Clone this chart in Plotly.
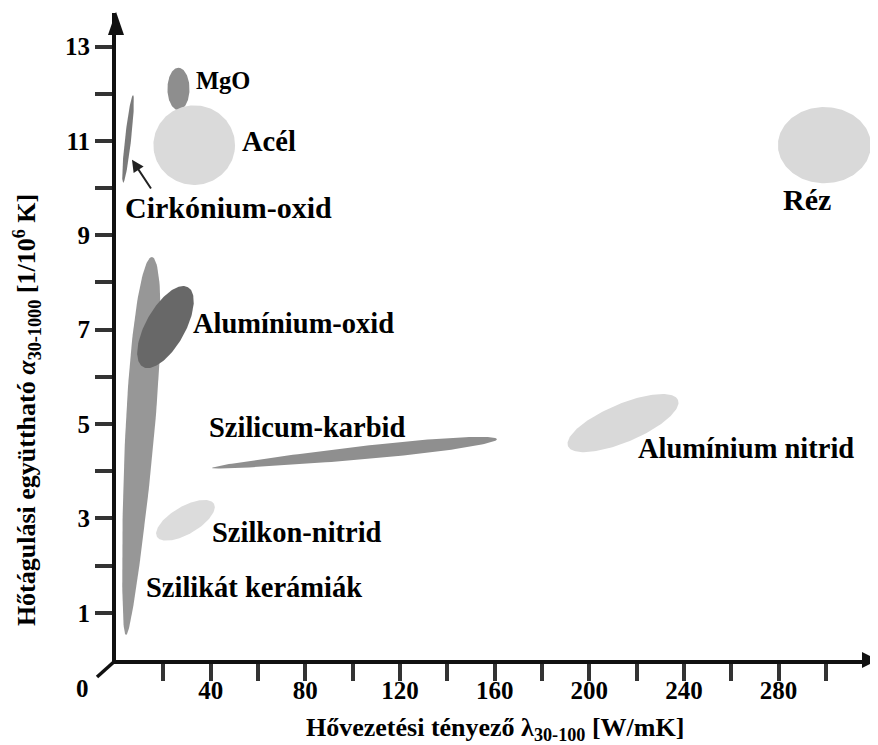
import numpy as np
import plotly.graph_objects as go

# material regions: thermal conductivity (W/mK) vs expansion coefficient (1/10^6 K)
# each region is given by the two ends of its long axis
materials = ["Szilikát kerámiák", "Alumínium-oxid", "MgO", "Acél", "Cirkónium-oxid",
             "Réz", "Alumínium nitrid", "Szilicum-karbid", "Szilkon-nitrid"]
lam_lo = [4.2, 11.4, 26.4, 15.8, 3.0, 279.7, 191.0, 40.6, 17.3]
alpha_lo = [0.53, 6.21, 11.65, 10.91, 10.11, 10.91, 4.53, 4.07, 2.61]
lam_hi = [15.2, 30.4, 26.4, 50.3, 7.2, 319.0, 237.5, 161.0, 41.4]
alpha_hi = [8.54, 7.90, 12.55, 10.91, 11.97, 10.91, 5.51, 4.68, 3.31]

x_tickvals = list(range(20, 320, 20))
x_ticktext = [str(v) if v % 40 == 0 and v < 300 else "" for v in x_tickvals]
y_tickvals = list(range(1, 14))
y_ticktext = [str(v) if v % 2 else "" for v in y_tickvals]

# styling
STYLE = {
    "Szilikát kerámiák": dict(ratio=0.075, egg=0.35, color="#979797"),
    "Alumínium-oxid": dict(ratio=0.43, egg=0.0, color="#686868"),
    "MgO": dict(ratio=0.52, egg=0.0, color="#8e8e8e"),
    "Acél": dict(ratio=0.975, egg=0.0, color="#dadada"),
    "Cirkónium-oxid": dict(ratio=0.07, egg=0.0, color="#7a7a7a"),
    "Réz": dict(ratio=0.82, egg=0.0, color="#d9d9d9"),
    "Alumínium nitrid": dict(ratio=0.32, egg=0.0, color="#d9d9d9"),
    "Szilicum-karbid": dict(ratio=0.045, egg=0.35, color="#8f8f8f"),
    "Szilkon-nitrid": dict(ratio=0.42, egg=0.0, color="#dcdcdc"),
}
LABEL_POS = {
    "Szilikát kerámiák": (58.3, 1.53, 28.5),
    "Alumínium-oxid": (75.2, 7.14, 28.5),
    "MgO": (45.4, 12.29, 24.5),
    "Acél": (64.7, 10.98, 28.5),
    "Cirkónium-oxid": (47.5, 9.58, 30),
    "Réz": (291.8, 9.75, 30),
    "Alumínium nitrid": (266.4, 4.49, 28.5),
    "Szilicum-karbid": (81.1, 4.92, 28.5),
    "Szilkon-nitrid": (76.5, 2.71, 28.5),
}

# the page body adds an 8px offset, so the figure is 8px smaller than the window
W, H = 870, 737
M = dict(l=108, r=0, t=5, b=85)
X_RANGE = [0, 322]
Y_RANGE = [0, 13.71]
KX = (W - M["l"] - M["r"]) / X_RANGE[1]
KY = (H - M["t"] - M["b"]) / Y_RANGE[1]
FONT = "Liberation Serif, Times New Roman, serif"


def ellipse(x0, y0, x1, y1, ratio, egg=0.0, n=160):
    # built in screen pixels so the unequal axis scales don't skew it
    X0, Y0, X1, Y1 = x0 * KX, y0 * KY, x1 * KX, y1 * KY
    cx, cy = (X0 + X1) / 2, (Y0 + Y1) / 2
    a = np.hypot(X1 - X0, Y1 - Y0) / 2
    b = a * ratio
    ang = np.arctan2(Y1 - Y0, X1 - X0)
    t = np.linspace(0, 2 * np.pi, n)
    u = a * np.cos(t)
    v = b * np.sin(t) * (1 + egg * np.cos(t))
    X = cx + u * np.cos(ang) - v * np.sin(ang)
    Y = cy + u * np.sin(ang) + v * np.cos(ang)
    return X / KX, Y / KY


fig = go.Figure()
for i, name in enumerate(materials):
    st = STYLE[name]
    ex, ey = ellipse(lam_lo[i], alpha_lo[i], lam_hi[i], alpha_hi[i], st["ratio"], st["egg"])
    fig.add_trace(
        go.Scatter(
            x=ex, y=ey, mode="lines", fill="toself",
            fillcolor=st["color"], line=dict(width=0, color=st["color"]),
            hoverinfo="skip", showlegend=False,
        )
    )
    lx, ly, fs = LABEL_POS[name]
    fig.add_annotation(
        x=lx, y=ly, text=name, showarrow=False, xanchor="center", yanchor="middle",
        font=dict(family=FONT, size=fs, color="black", weight="bold"),
    )

# pointer for the thin zirconia region
fig.add_annotation(
    x=6.76, y=10.60, ax=15.2, ay=9.96, axref="x", ayref="y", text="",
    showarrow=True, arrowhead=2, arrowsize=1.2, arrowwidth=2, arrowcolor="#222",
)

fig.add_annotation(
    x=-0.0446, y=-0.0433, xref="paper", yref="paper", text="0", showarrow=False,
    xanchor="center", yanchor="middle",
    font=dict(family=FONT, size=25, color="black", weight="bold"),
)
fig.add_annotation(
    x=0.497, y=-0.1065, xref="paper", yref="paper", showarrow=False,
    xanchor="center", yanchor="middle",
    text="Hővezetési tényező λ<sub>30-100</sub> [W/mK]",
    font=dict(family=FONT, size=26, color="black", weight="bold"),
)
fig.add_annotation(
    x=-0.117, y=0.386, xref="paper", yref="paper", showarrow=False, textangle=-90,
    xanchor="center", yanchor="middle",
    text="Hőtágulási együttható <i>α</i><sub>30-1000</sub> [1/10<sup>6</sup> K]",
    font=dict(family=FONT, size=26, color="black", weight="bold"),
)

# axis break mark and arrow heads
fig.add_shape(type="line", xref="paper", yref="paper", x0=-0.0249, y0=-0.0263, x1=0, y1=0,
              line=dict(color="#111", width=3.5))
fig.add_shape(type="path", xref="paper", yref="paper",
              path="M -0.0105 0.966 L 0.0105 0.966 L 0 1.002 Z",
              fillcolor="#111", line=dict(width=0))
fig.add_shape(type="path", xref="paper", yref="paper",
              path="M 0.979 0.0124 L 0.979 -0.0124 L 1.0 0 Z",
              fillcolor="#111", line=dict(width=0))

fig.update_xaxes(
    range=X_RANGE, showgrid=False, zeroline=False, showline=True, linewidth=4, linecolor="#111",
    ticks="outside", ticklen=17, tickwidth=3.5, tickcolor="#333",
    tickvals=x_tickvals, ticktext=x_ticktext, ticklabelstandoff=-12,
    tickfont=dict(family=FONT, size=25, color="black", weight="bold"),
)
fig.update_yaxes(
    range=Y_RANGE, showgrid=False, zeroline=False, showline=True, linewidth=4, linecolor="#111",
    ticks="outside", ticklen=17, tickwidth=3.5, tickcolor="#333",
    tickvals=y_tickvals, ticktext=y_ticktext,
    tickfont=dict(family=FONT, size=25, color="black", weight="bold"),
)
fig.update_layout(
    width=W, height=H, margin=M, autosize=False,
    paper_bgcolor="white", plot_bgcolor="white", showlegend=False,
)

fig.write_html("out.html")
